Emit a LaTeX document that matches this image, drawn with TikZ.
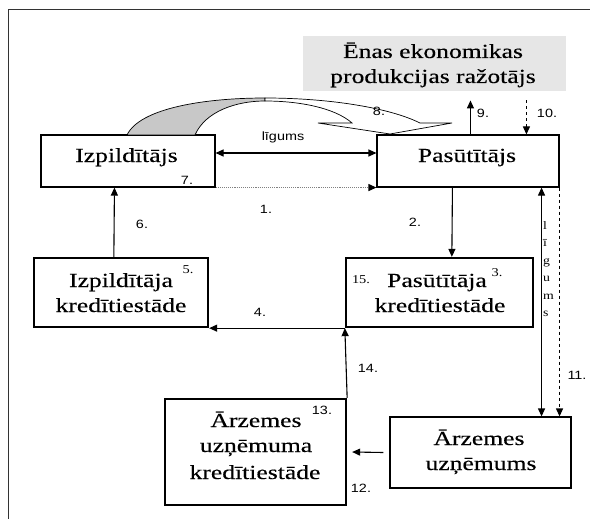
\documentclass[tikz,border=0pt]{standalone}
\usepackage{fontspec}
\setmainfont{Liberation Serif}
\newfontfamily\boxfont[FakeStretch=1.28,FakeBold=0.35]{Liberation Serif}
\newfontfamily\smallserif[FakeStretch=1.2]{Liberation Serif}
\newfontfamily\labfont[FakeStretch=1.2]{Liberation Sans}
\usetikzlibrary{arrows.meta}
\definecolor{boxgray}{HTML}{E6E6E6}
\definecolor{curvegray}{HTML}{C8C8C8}
\begin{document}
\begin{tikzpicture}[x=1pt,y=-1pt,
  thinbox/.style={draw, line width=1.1pt, inner sep=0},
  thickbox/.style={draw, line width=2.3pt, inner sep=0},
  btext/.style={font=\boxfont\fontsize{20}{25}\selectfont, anchor=base, inner sep=0},
  lab/.style={font=\labfont\fontsize{12}{14}\selectfont, inner sep=0},
  slab/.style={font=\smallserif\fontsize{12}{14}\selectfont, inner sep=0},
  tip/.tip={Triangle[length=8pt,width=7pt,color=black]},
  arr/.style={-tip, line width=1.1pt},
  darr/.style={tip-tip, line width=1.1pt},
]
\useasboundingbox (0,0) rectangle (590,519);
% frame
\draw[line width=1pt, black!80] (8,519) -- (8,10) -- (590,10);

% boxes
\node[fill=boxgray, inner sep=0, minimum width=263pt, minimum height=55pt] (grey) at (434.5,63.5) {};
\node[thinbox, minimum width=174pt, minimum height=52pt] (izp) at (128,161) {};
\node[thinbox, minimum width=182pt, minimum height=52pt] (pas) at (468,161) {};
\node[thickbox, minimum width=174pt, minimum height=69pt] (izpk) at (121,292.5) {};
\node[thickbox, minimum width=187pt, minimum height=69pt] (pask) at (439.5,292.5) {};
\node[thickbox, minimum width=181pt, minimum height=106pt] (arzk) at (255.5,452) {};
\node[thinbox, minimum width=181pt, minimum height=71pt] (arz) at (480.5,452.5) {};

% box texts
\node[btext] (g1) at (433,58) {Ēnas ekonomikas};
\node[btext] (g2) at (433,83) {produkcijas ražotājs};
\node[btext] (t1) at (126.5,162) {Izpildītājs};
\node[btext] (t2) at (467,162) {Pasūtītājs};
\node[btext] (t3) at (121,287) {Izpildītāja};
\node[btext] (t4) at (121,312) {kredītiestāde};
\node[btext] (t5) at (437,287) {Pasūtītāja};
\node[btext] (t6) at (440,312) {kredītiestāde};
\node[btext] (t7) at (256,427) {Ārzemes};
\node[btext] (t8) at (256,452) {uzņēmuma};
\node[btext] (t9) at (255,479) {kredītiestāde};
\node[btext] (t10) at (479,445) {Ārzemes};
\node[btext] (t11) at (481,470) {uzņēmums};

% curved arrow 8
\filldraw[fill=curvegray, line width=0.7pt]
  (127,135) .. controls (140,108) and (205,98) .. (265,98)
  -- (265,101) .. controls (235,101) and (205,112) .. (195,135) -- cycle;
\filldraw[fill=white, line width=0.7pt]
  (265,98) .. controls (330,98) and (390,108) .. (420,123)
  -- (452,123) -- (390,134) -- (318,123) -- (352,123)
  .. controls (335,108) and (300,101) .. (265,101) -- cycle;

% connectors
\draw[darr] ([yshift=8pt]izp.east) -- ([yshift=8pt]pas.west);
\draw[-tip, line width=1.1pt, gray, densely dotted] (izp.south east) -- (pas.south west);
\draw[arr] ([xshift=94pt]pas.north west) -- ++(0,-34);
\draw[arr, dashed] ([xshift=150pt,yshift=34pt]pas.north west) -- ([xshift=150pt]pas.north west);
\draw[arr] ([xshift=76pt]pas.south west) -- ([xshift=107pt]pask.north west);
\draw[arr] ([xshift=81pt]izpk.north west) -- ([xshift=74pt]izp.south west);
\draw[arr] (pask.south west) -- (izpk.south east);
\draw[arr] (arzk.north east) -- (pask.south west);
\draw[darr] ([xshift=-18pt]pas.south east) -- ([xshift=-18pt]pas.south east |- arz.north);
\draw[arr, dashed] (pas.south east) -- (pas.south east |- arz.north);
\draw[arr] ([xshift=-6pt]arz.west) -- ([xshift=5pt]arzk.east);

% labels
\node[lab] (lig) at (283,137) {līgums};
\node[lab] (n1) at (266,209) {1.};
\node[lab] (n2) at (415,222) {2.};
\node[lab] (n4) at (260,312) {4.};
\node[lab] (n6) at (142,224) {6.};
\node[lab] (n7) at (187,180) {7.};
\node[lab] (n8) at (379,111) {8.};
\node[lab] (n9) at (483,113) {9.};
\node[lab] (n10) at (547,113) {10.};
\node[lab] (n11) at (577,375) {11.};
\node[lab] (n12) at (361,488) {12.};
\node[lab] (n13) at (322,410) {13.};
\node[lab] (n14) at (368,368) {14.};
\node[slab] (n5) at (188,270) {5.};
\node[slab] (n3) at (497,273) {3.};
\node[slab] (n15) at (361,280) {15.};
\node[slab, align=left, anchor=west, font=\smallserif\fontsize{11.5}{17.5}\selectfont] (vlig) at (543,269) {l\\ī\\g\\u\\m\\s};
\end{tikzpicture}
\end{document}
